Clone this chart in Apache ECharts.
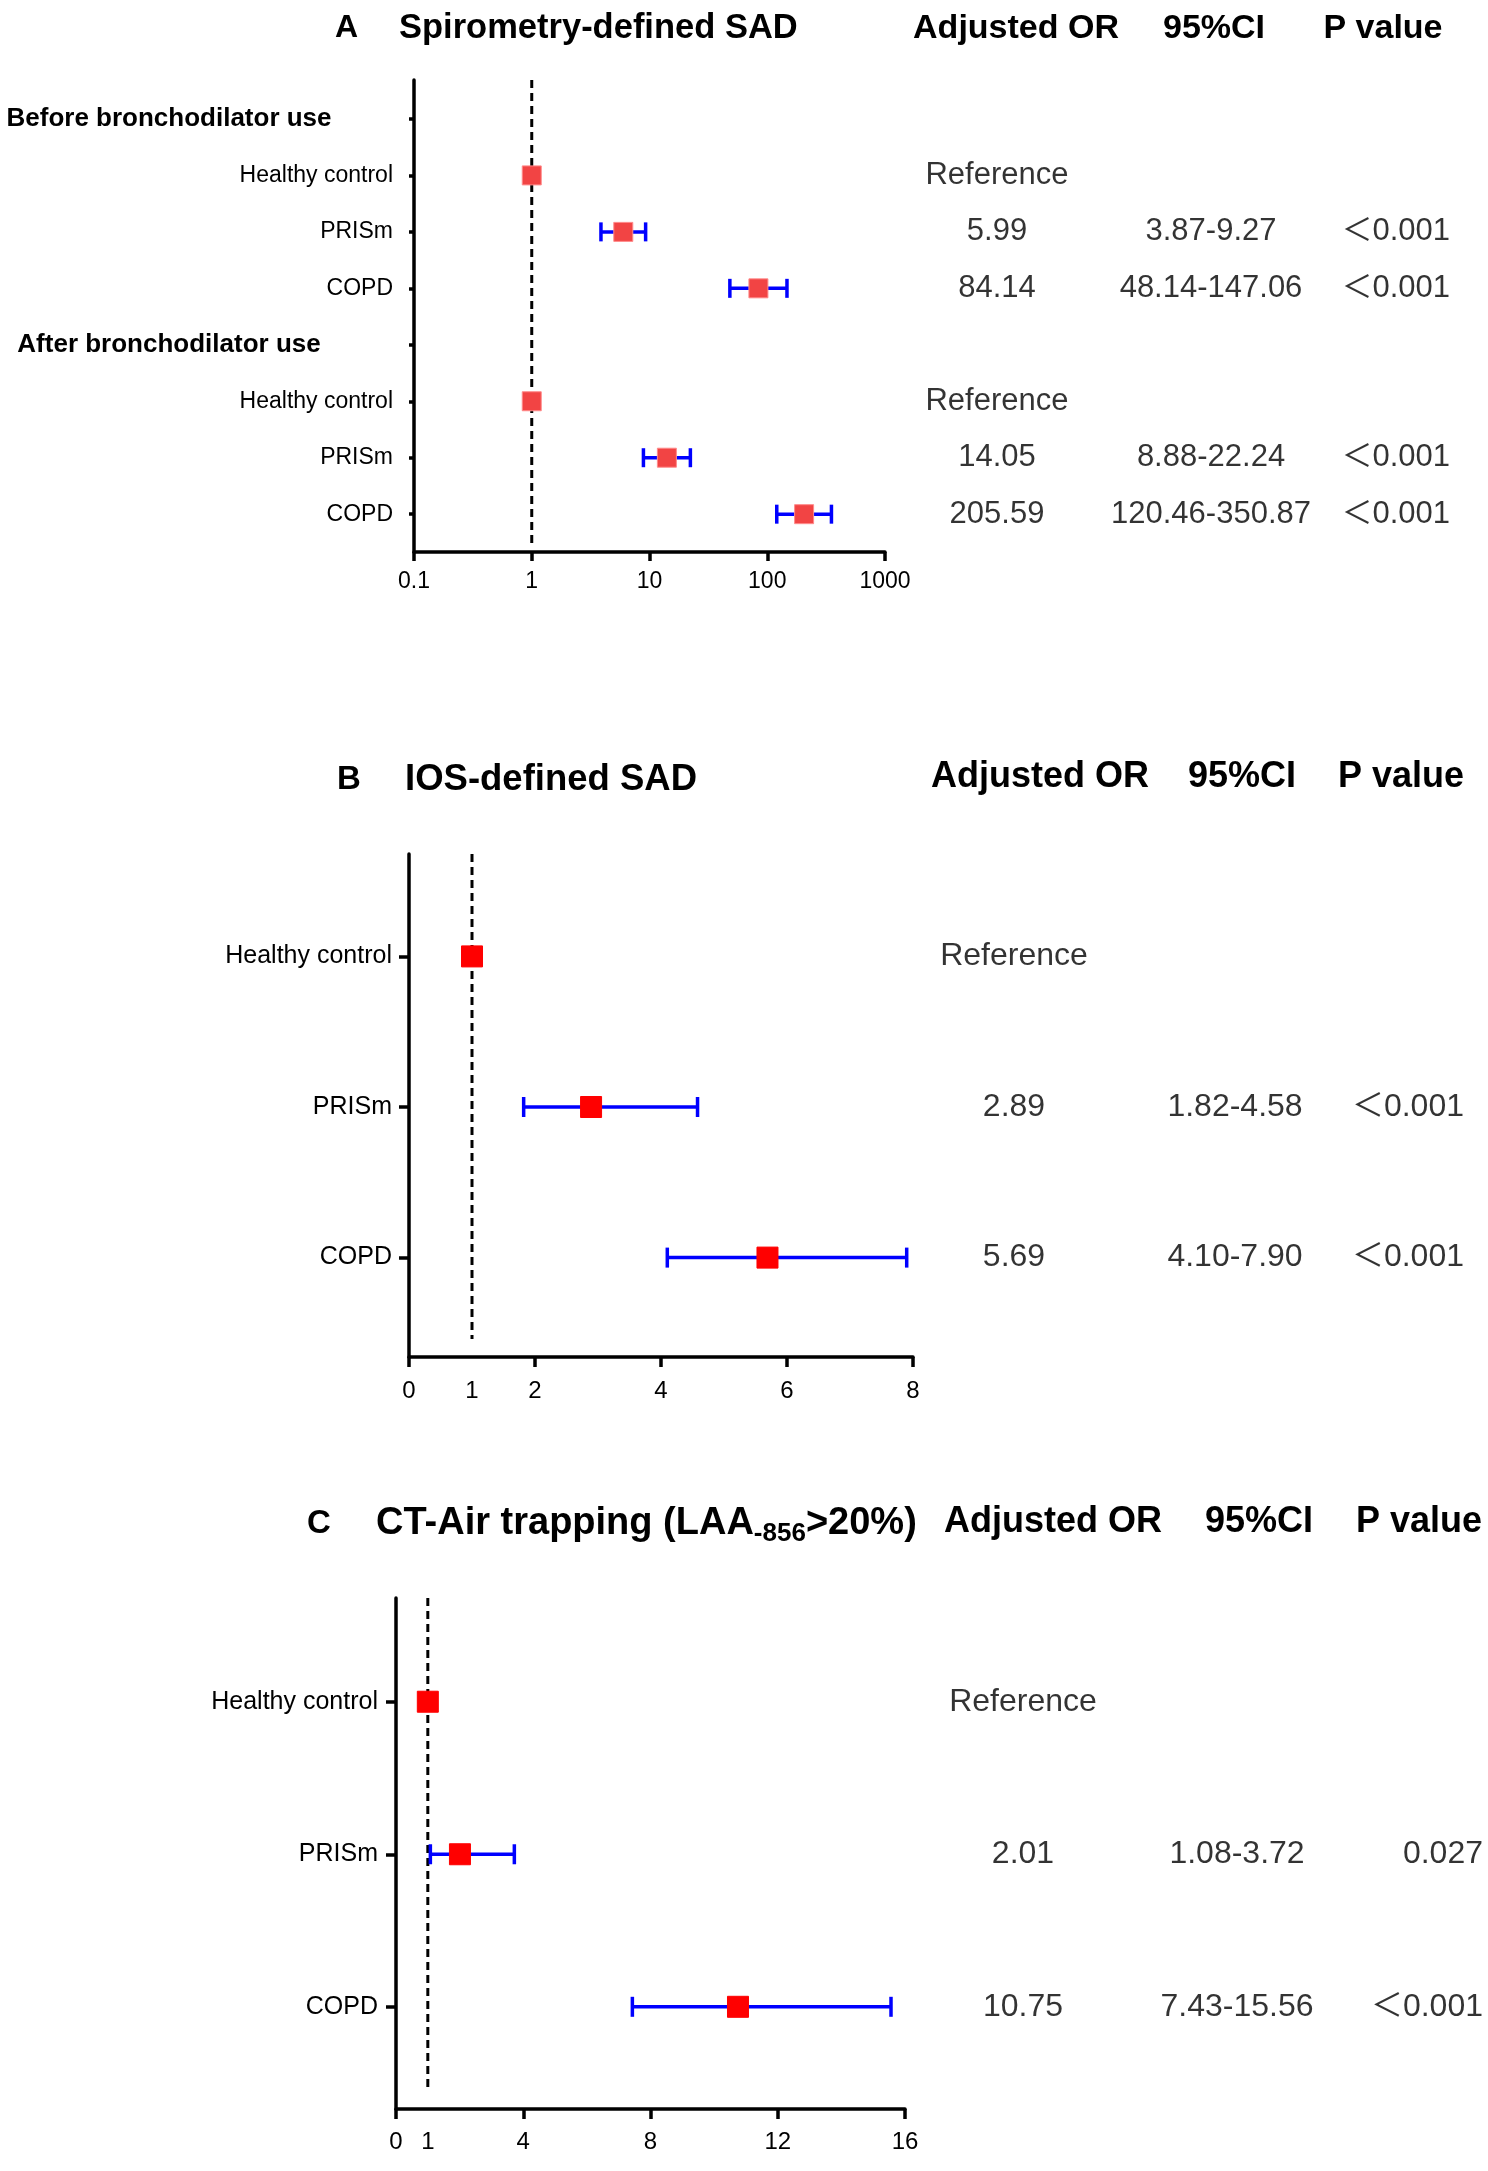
<!DOCTYPE html>
<html><head><meta charset="utf-8">
<style>html,body{margin:0;padding:0;background:#fff}#c{width:1488px;height:2171px}</style>
<script src="https://cdn.jsdelivr.net/npm/echarts@6/dist/echarts.min.js"></script>
</head><body><div id="c"></div>
<script>
// ---------- Panel A : Spirometry-defined SAD ----------
const rowsA = ['Before bronchodilator use','Healthy control','PRISm','COPD','After bronchodilator use','Healthy control','PRISm','COPD'];
const groupRowsA = [0, 4];
const orA = [null, 1, 5.99, 84.14, null, 1, 14.05, 205.59];
const ciLowA = [null, null, 3.87, 48.14, null, null, 8.88, 120.46];
const ciHighA = [null, null, 9.27, 147.06, null, null, 22.24, 350.87];
const orTextA = ['', 'Reference', '5.99', '84.14', '', 'Reference', '14.05', '205.59'];
const ciTextA = ['', '', '3.87-9.27', '48.14-147.06', '', '', '8.88-22.24', '120.46-350.87'];
const pTextA = ['', '', '＜0.001', '＜0.001', '', '', '＜0.001', '＜0.001'];
const xLabelsA = [0.1, 1, 10, 100, 1000];
const xTicksA = [0.1, 1, 10, 100, 1000];

// ---------- Panel B : IOS-defined SAD ----------
const rowsB = ['Healthy control', 'PRISm', 'COPD'];
const groupRowsB = [];
const orB = [1, 2.89, 5.69];
const ciLowB = [null, 1.82, 4.10];
const ciHighB = [null, 4.58, 7.90];
const orTextB = ['Reference', '2.89', '5.69'];
const ciTextB = ['', '1.82-4.58', '4.10-7.90'];
const pTextB = ['', '＜0.001', '＜0.001'];
const xLabelsB = [0, 1, 2, 4, 6, 8];
const xTicksB = [0, 2, 4, 6, 8];

// ---------- Panel C : CT-Air trapping ----------
const rowsC = ['Healthy control', 'PRISm', 'COPD'];
const groupRowsC = [];
const orC = [1, 2.01, 10.75];
const ciLowC = [null, 1.08, 7.43];
const ciHighC = [null, 3.72, 15.56];
const orTextC = ['Reference', '2.01', '10.75'];
const ciTextC = ['', '1.08-3.72', '7.43-15.56'];
const pTextC = ['', '0.027', '＜0.001'];
const xLabelsC = [0, 1, 4, 8, 12, 16];
const xTicksC = [0, 4, 8, 12, 16];

const refOR = 1;
const headerTexts = ['Adjusted OR', '95%CI', 'P value'];

const FONT = "'Liberation Sans', Arial, 'Noto Sans CJK SC', sans-serif";

const panels = [
  { rows: rowsA, groups: groupRowsA, or: orA, lo: ciLowA, hi: ciHighA,
    orText: orTextA, ciText: ciTextA, pText: pTextA,
    xType: 'log', xMin: 0.1, xMax: 1000, xLabels: xLabelsA, xTicks: xTicksA,
    grid: { left: 414, top: 80, width: 471, height: 472 }, yMin: -0.69, yMax: 7.67,
    labelSize: 23, groupSize: 26, groupCenter: 169, yTickLen: 5, yMargin: 21,
    xLabelSize: 23, xMargin: 18, xTickLen: 9,
    markerColor: '#f24444', markerBorder: '#ff8a8a', markerSize: 19, capH: 19,
    colX: [997, 1211, 1450], valueSize: 31 },
  { rows: rowsB, groups: groupRowsB, or: orB, lo: ciLowB, hi: ciHighB,
    orText: orTextB, ciText: ciTextB, pText: pTextB,
    xType: 'value', xMin: 0, xMax: 8, xLabels: xLabelsB, xTicks: xTicksB,
    grid: { left: 409, top: 854, width: 504, height: 503 }, yMin: -0.68, yMax: 2.66,
    labelSize: 25, groupSize: 25, groupCenter: 169, yTickLen: 10, yMargin: 17,
    xLabelSize: 24, xMargin: 22, xTickLen: 10,
    markerColor: '#ff0000', markerBorder: '#ff0000', markerSize: 21, capH: 20,
    colX: [1014, 1235, 1464], valueSize: 32 },
  { rows: rowsC, groups: groupRowsC, or: orC, lo: ciLowC, hi: ciHighC,
    orText: orTextC, ciText: ciTextC, pText: pTextC,
    xType: 'value', xMin: 0, xMax: 16, xLabels: xLabelsC, xTicks: xTicksC,
    grid: { left: 396, top: 1598, width: 509, height: 511 }, yMin: -0.68, yMax: 2.67,
    labelSize: 25, groupSize: 25, groupCenter: 169, yTickLen: 10, yMargin: 18,
    xLabelSize: 24, xMargin: 21, xTickLen: 10,
    markerColor: '#ff0000', markerBorder: '#ff0000', markerSize: 21, capH: 20,
    colX: [1023, 1237, 1483], valueSize: 32 }
];

const grids = [], xAxes = [], yAxes = [], series = [];

panels.forEach((p, k) => {
  const gi = grids.length;
  grids.push(Object.assign({ containLabel: false }, p.grid));
  // plot axes
  xAxes.push({
    gridIndex: gi, type: p.xType, logBase: 10, min: p.xMin, max: p.xMax,
    axisLine: { show: true, onZero: false, lineStyle: { color: '#000', width: 3.5 } },
    axisTick: { show: true, inside: false, length: p.xTickLen, lineStyle: { color: '#000', width: 3.5 }, customValues: p.xTicks },
    axisLabel: { customValues: p.xLabels, margin: p.xMargin, fontSize: p.xLabelSize, fontFamily: FONT, color: '#000',
      formatter: v => String(+(+v).toPrecision(6)) },
    splitLine: { show: false }
  });
  yAxes.push({
    gridIndex: gi, type: 'value', inverse: true, min: p.yMin, max: p.yMax,
    axisLine: { show: true, onZero: false, lineStyle: { color: '#000', width: 3.5 } },
    axisTick: { show: true, length: p.yTickLen, lineStyle: { color: '#000', width: 3.5 }, customValues: p.rows.map((_, i) => i) },
    axisLabel: {
      customValues: p.rows.map((_, i) => i), margin: p.yMargin,
      formatter: v => { const i = Math.round(v); const nm = p.rows[i]; return p.groups.indexOf(i) >= 0 ? '{g|' + nm + '}' : '{n|' + nm + '}'; },
      rich: {
        n: { fontSize: p.labelSize, fontFamily: FONT, color: '#000' },
        g: { fontSize: p.groupSize, fontWeight: 'bold', fontFamily: FONT, color: '#000',
             width: 2 * (p.grid.left - p.yMargin - p.groupCenter), align: 'center' }
      }
    },
    splitLine: { show: false }
  });
  // reference dashed line
  series.push({
    type: 'line', xAxisIndex: gi, yAxisIndex: gi, symbol: 'none', silent: true, z: 1,
    data: [[refOR, p.yMin], [refOR, p.yMax - 0.12]],
    lineStyle: { color: '#000', width: 3, type: [8, 5] }
  });
  // error bars
  const errData = [];
  p.lo.forEach((lo, i) => { if (lo != null) errData.push([lo, p.hi[i], i]); });
  series.push({
    type: 'custom', xAxisIndex: gi, yAxisIndex: gi, z: 3, silent: true,
    encode: { x: [0, 1], y: 2 },
    data: errData,
    renderItem: (params, api) => {
      const a = api.coord([api.value(0), api.value(2)]);
      const b = api.coord([api.value(1), api.value(2)]);
      const h = p.capH / 2;
      const st = { stroke: '#0000ff', lineWidth: 3.5 };
      return { type: 'group', children: [
        { type: 'line', shape: { x1: a[0], y1: a[1], x2: b[0], y2: b[1] }, style: st },
        { type: 'line', shape: { x1: a[0], y1: a[1] - h, x2: a[0], y2: a[1] + h }, style: st },
        { type: 'line', shape: { x1: b[0], y1: b[1] - h, x2: b[0], y2: b[1] + h }, style: st }
      ] };
    }
  });
  // point estimates
  const ptData = [];
  p.or.forEach((v, i) => { if (v != null) ptData.push([v, i]); });
  series.push({
    type: 'scatter', xAxisIndex: gi, yAxisIndex: gi, z: 5, silent: true,
    symbol: 'rect', symbolSize: p.markerSize, data: ptData,
    itemStyle: { color: p.markerColor, borderColor: p.markerBorder, borderWidth: 1, opacity: 1 }
  });

  // table grid (right-hand columns), sharing the same row scale
  const ti = grids.length;
  grids.push({ left: 0, width: 1488, top: p.grid.top, height: p.grid.height });
  xAxes.push({ gridIndex: ti, type: 'value', min: 0, max: 1488, show: false });
  yAxes.push({ gridIndex: ti, type: 'value', inverse: true, min: p.yMin, max: p.yMax, show: false });
  [p.orText, p.ciText, p.pText].forEach((col, c) => {
    const d = [];
    col.forEach((s, i) => { if (s) d.push({ value: [p.colX[c], i], name: s }); });
    series.push({
      type: 'scatter', xAxisIndex: ti, yAxisIndex: ti, symbolSize: 1, clip: false, silent: true,
      itemStyle: { color: 'rgba(0,0,0,0)' }, data: d,
      label: { show: true, position: 'inside', formatter: '{b}', fontSize: p.valueSize, fontFamily: FONT,
               color: '#000', textBorderWidth: 0, align: c === 2 ? 'right' : 'center', verticalAlign: 'middle' }
    });
  });
});

function txt(x, y, text, size, opts) {
  return { type: 'text', x: x, y: y, silent: true,
    style: Object.assign({ text: text, fontSize: size, fontWeight: 'bold', fontFamily: FONT, fill: '#000',
      align: 'left', verticalAlign: 'middle', textAlign: 'left', textVerticalAlign: 'middle' }, opts || {}) };
}
const C = (o) => Object.assign({ align: 'center', textAlign: 'center' }, o || {});

const graphic = [
  txt(335, 28, 'A', 32), txt(399, 28, 'Spirometry-defined SAD', 34.5),
  txt(1016, 29, headerTexts[0], 34, C()), txt(1214, 29, headerTexts[1], 34, C()), txt(1383, 29, headerTexts[2], 34, C()),
  txt(337, 780, 'B', 33), txt(405, 780, 'IOS-defined SAD', 36.5),
  txt(1040, 777, headerTexts[0], 36, C()), txt(1242, 777, headerTexts[1], 36, C()), txt(1401, 777, headerTexts[2], 36, C()),
  txt(307, 1524, 'C', 33),
  { type: 'text', x: 376, y: 1524, silent: true,
    style: { text: '{m|CT-Air trapping (LAA}{s|-856}{m|>20%)}', fontFamily: FONT, fill: '#000',
      align: 'left', verticalAlign: 'middle', textAlign: 'left', textVerticalAlign: 'middle',
      rich: { m: { fontSize: 38, fontWeight: 'bold', fontFamily: FONT, lineHeight: 46, verticalAlign: 'middle' },
              s: { fontSize: 26, fontWeight: 'bold', fontFamily: FONT, lineHeight: 20, verticalAlign: 'bottom' } } } },
  txt(1053, 1522, headerTexts[0], 36, C()), txt(1259, 1522, headerTexts[1], 36, C()), txt(1419, 1522, headerTexts[2], 36, C())
];

const chart = echarts.init(document.getElementById('c'), null, { renderer: 'canvas' });
chart.setOption({
  backgroundColor: '#fff', animation: false,
  grid: grids, xAxis: xAxes, yAxis: yAxes, series: series, graphic: graphic
});
</script></body></html>
